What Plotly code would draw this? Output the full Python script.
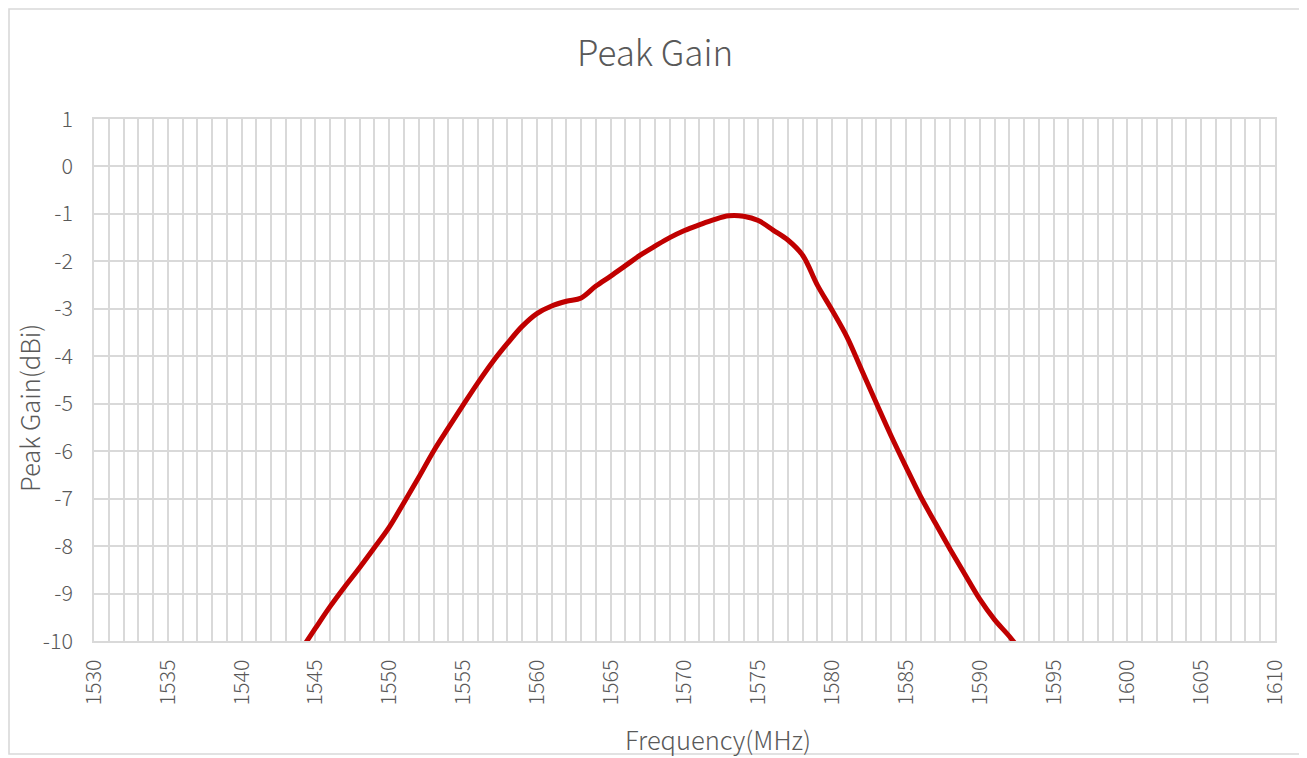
import plotly.graph_objects as go

# Data
freq_mhz = [1544, 1545, 1546, 1547, 1548, 1549, 1550, 1551, 1552, 1553,
            1554, 1555, 1556, 1557, 1558, 1559, 1560, 1561, 1562, 1563,
            1564, 1565, 1566, 1567, 1568, 1569, 1570, 1571, 1572, 1573,
            1574, 1575, 1576, 1577, 1578, 1579, 1580, 1581, 1582, 1583,
            1584, 1585, 1586, 1587, 1588, 1589, 1590, 1591, 1592, 1593]
peak_gain_dbi = [-10.2, -9.73, -9.27, -8.85, -8.45, -8.03, -7.60, -7.08, -6.55, -6.0,
                 -5.51, -5.03, -4.56, -4.12, -3.73, -3.37, -3.10, -2.94, -2.84, -2.77,
                 -2.52, -2.31, -2.09, -1.87, -1.68, -1.50, -1.35, -1.23, -1.12, -1.04,
                 -1.05, -1.14, -1.34, -1.55, -1.87, -2.50, -3.03, -3.59, -4.29, -4.99,
                 -5.68, -6.33, -6.96, -7.52, -8.07, -8.60, -9.12, -9.55, -9.90, -10.3]

x_ticks = [1530, 1535, 1540, 1545, 1550, 1555, 1560, 1565, 1570, 1575,
           1580, 1585, 1590, 1595, 1600, 1605, 1610]
y_ticks = [1, 0, -1, -2, -3, -4, -5, -6, -7, -8, -9, -10]

title_text = "Peak Gain"
x_title = "Frequency(MHz)"
y_title = "Peak Gain(dBi)"

FONT = "Noto Sans CJK SC"
TXT = "#595959"
GRID = "#d9d9d9"

# the page body adds an 8px margin, so the figure is laid out in shifted pixels
OFF = 8
W, H = 1307 - OFF, 758 - OFF
L, T = 94 - OFF, 119 - OFF
R = W - (1275 - OFF)
B = H - (641 - OFF)
pw, ph = W - L - R, H - T - B

def px_x(p):  # screen pixel -> paper x
    return (p - OFF - L) / pw

def px_y(p):  # screen pixel -> paper y
    return (H - B - (p - OFF)) / ph

fig = go.Figure()
fig.add_trace(go.Scatter(
    x=freq_mhz, y=peak_gain_dbi, mode="lines",
    line=dict(color="#C00000", width=5, shape="spline", smoothing=1),
    showlegend=False, hoverinfo="x+y",
))

fig.update_layout(
    width=W, height=H,
    margin=dict(l=L, r=R, t=T, b=B, autoexpand=False),
    paper_bgcolor="white", plot_bgcolor="white",
    font=dict(family=FONT, color=TXT, size=21.5, weight=300),
    xaxis=dict(
        range=[1530, 1610], tickvals=x_ticks, ticktext=[str(v) for v in x_ticks],
        tickangle=-90, showgrid=True, gridcolor=GRID, gridwidth=1.6,
        minor=dict(dtick=1, showgrid=True, gridcolor=GRID, gridwidth=1.6),
        showline=True, linecolor=GRID, linewidth=1.6, mirror=True,
        ticks="", zeroline=False, ticklabelstandoff=8,
        tickfont=dict(family=FONT, color=TXT, size=21.5, weight=300),
    ),
    yaxis=dict(
        range=[-10, 1], tickvals=y_ticks, ticktext=[str(v) for v in y_ticks],
        showgrid=True, gridcolor=GRID, gridwidth=1.6,
        showline=True, linecolor=GRID, linewidth=1.6, mirror=True,
        ticks="", zeroline=False, ticklabelstandoff=15,
        tickfont=dict(family=FONT, color=TXT, size=21.5, weight=300),
    ),
    shapes=[dict(type="rect", xref="paper", yref="paper",
                 x0=px_x(OFF + 1), x1=px_x(1302), y0=px_y(754), y1=px_y(OFF + 1),
                 line=dict(color=GRID, width=1.6), fillcolor="rgba(0,0,0,0)",
                 layer="below")],
    annotations=[
        dict(text=title_text, xref="paper", yref="paper", x=px_x(655), y=px_y(50),
             showarrow=False, xanchor="center", yanchor="middle",
             font=dict(family=FONT, size=35, color=TXT, weight=300)),
        dict(text=x_title, xref="paper", yref="paper", x=px_x(718), y=px_y(738),
             showarrow=False, xanchor="center", yanchor="middle",
             font=dict(family=FONT, size=25.5, color=TXT, weight=300)),
        dict(text=y_title, xref="paper", yref="paper", x=px_x(28), y=px_y(408),
             showarrow=False, xanchor="center", yanchor="middle", textangle=-90,
             font=dict(family=FONT, size=25.5, color=TXT, weight=300)),
    ],
)

fig.write_html("out.html")
